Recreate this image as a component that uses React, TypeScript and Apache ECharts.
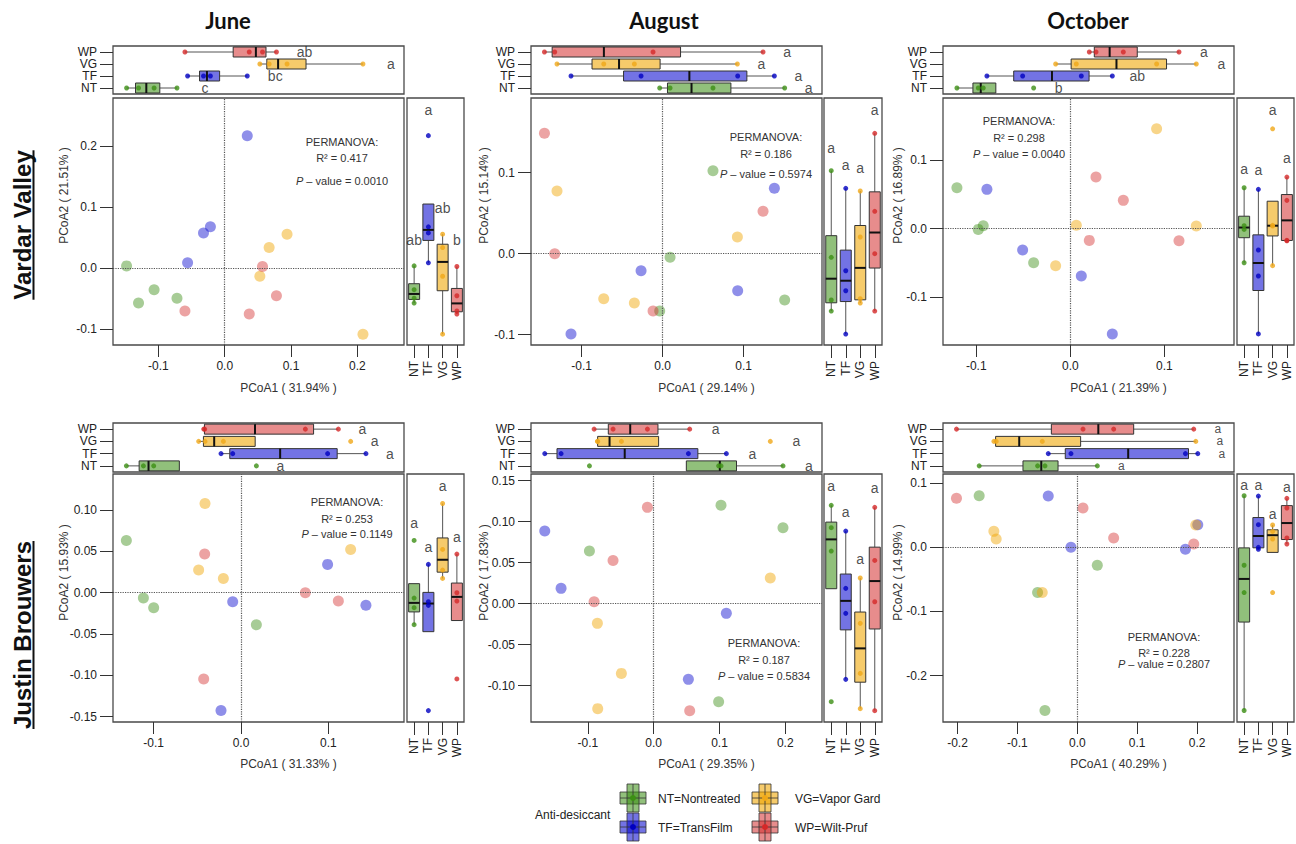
import React, { useEffect, useRef } from 'react';
import * as echarts from 'echarts';

// ---------- categories & labels ----------
const GROUPS = ['NT', 'TF', 'VG', 'WP'];
const GROUP_LABELS = ['NT=Nontreated', 'TF=TransFilm', 'VG=Vapor Gard', 'WP=Wilt-Pruf'];
const MONTHS = ['June', 'August', 'October'];
const SITES = ['Vardar Valley', 'Justin Brouwers'];

// ---------- data: PCoA1 (x) and PCoA2 (y) per group [NT, TF, VG, WP] ----------
const JUNE_VARDAR_X = [[-0.148, -0.130, -0.1065, -0.072], [0.034, -0.032, -0.0216, -0.056], [0.094, 0.067, 0.053, 0.2085], [0.057, 0.078, 0.037, -0.060]];
const JUNE_VARDAR_Y = [[0.004, -0.057, -0.035, -0.049], [0.2175, 0.058, 0.068, 0.009], [0.056, 0.034, -0.013, -0.108], [0.003, -0.045, -0.075, -0.070]];
const AUG_VARDAR_X = [[0.0621, 0.0091, 0.1506, -0.0037], [0.1379, -0.0267, 0.0926, -0.1132], [-0.1305, 0.0922, -0.0728, -0.035], [-0.146, -0.1333, 0.1239, -0.0119]];
const AUG_VARDAR_Y = [[0.1025, -0.0045, -0.0572, -0.0708], [0.0807, -0.021, -0.0457, -0.0992], [0.0774, 0.0206, -0.0556, -0.0609], [0.1486, 0.0, 0.0523, -0.0708]];
const OCT_VARDAR_X = [[-0.1206, -0.0926, -0.0979, -0.039], [-0.0887, -0.0507, 0.0117, 0.0447], [0.0918, 0.0064, 0.134, -0.0156], [0.0273, 0.0564, 0.0202, 0.1156]];
const OCT_VARDAR_Y = [[0.06, 0.0044, -0.001, -0.0498], [0.0576, -0.0312, -0.0693, -0.1541], [0.1463, 0.0049, 0.0039, -0.0541], [0.0756, 0.0415, -0.0171, -0.0176]];
const JUNE_JUSTIN_X = [[-0.1313, -0.1118, -0.1, 0.0176], [0.0992, -0.0095, 0.1431, -0.0229], [-0.0412, -0.0485, -0.0202, 0.1256], [-0.0416, 0.0737, 0.1115, -0.0427]];
const JUNE_JUSTIN_Y = [[0.0633, -0.0065, -0.0181, -0.0387], [0.0343, -0.0109, -0.0153, -0.1427], [0.108, 0.0274, 0.0173, 0.0524], [0.0468, 0.0, -0.0101, -0.1044]];
const AUG_JUSTIN_X = [[0.1023, 0.1965, -0.0977, 0.0987], [-0.1656, -0.1408, 0.1104, 0.0527], [0.1772, -0.0856, -0.0491, -0.0851], [-0.0096, -0.0618, -0.0906, 0.0547]];
const AUG_JUSTIN_Y = [[0.12, 0.0927, 0.0642, -0.1195], [0.0886, 0.0187, -0.0118, -0.0923], [0.0313, -0.024, -0.085, -0.128], [0.1175, 0.0528, 0.0024, -0.1305]];
const OCT_JUSTIN_X = [[-0.1638, 0.0334, -0.0663, -0.054], [-0.0485, -0.0106, 0.1805, 0.2011], [-0.1393, -0.1354, -0.0585, 0.1978], [-0.2017, 0.0095, 0.0607, 0.1944]];
const OCT_JUSTIN_Y = [[0.0805, -0.028, -0.0706, -0.2545], [0.08, 0.0, -0.0031, 0.0353], [0.0249, 0.013, -0.0706, 0.0348], [0.0764, 0.0613, 0.0145, 0.0052]];

const PANEL_X = [JUNE_VARDAR_X, AUG_VARDAR_X, OCT_VARDAR_X, JUNE_JUSTIN_X, AUG_JUSTIN_X, OCT_JUSTIN_X];
const PANEL_Y = [JUNE_VARDAR_Y, AUG_VARDAR_Y, OCT_VARDAR_Y, JUNE_JUSTIN_Y, AUG_JUSTIN_Y, OCT_JUSTIN_Y];

const PC1_PCT = ['31.94', '29.14', '21.39', '31.33', '29.35', '40.29'];
const PC2_PCT = ['21.51', '15.14', '16.89', '15.93', '17.83', '14.99'];
const R2 = ['0.417', '0.186', '0.298', '0.253', '0.187', '0.228'];
const PVAL = ['0.0010', '0.5974', '0.0040', '0.1149', '0.5834', '0.2807'];

const LETTERS_TOP = [['c', 'bc', 'a', 'ab'], ['a', 'a', 'a', 'a'], ['b', 'ab', 'a', 'a'], ['a', 'a', 'a', 'a'], ['a', 'a', 'a', 'a'], ['a', 'a', 'a', 'a']];
const LETTERS_RIGHT = [['ab', 'a', 'ab', 'b'], ['a', 'a', 'a', 'a'], ['a', 'a', 'a', 'a'], ['a', 'a', 'a', 'a'], ['a', 'a', 'a', 'a'], ['a', 'a', 'a', 'a']];

const X_TICKS = [[-0.1, 0, 0.1, 0.2], [-0.1, 0, 0.1], [-0.1, 0, 0.1], [-0.1, 0, 0.1], [-0.1, 0, 0.1, 0.2], [-0.2, -0.1, 0, 0.1, 0.2]];
const Y_TICKS = [[-0.1, 0, 0.1, 0.2], [-0.1, 0, 0.1], [-0.1, 0, 0.1], [-0.15, -0.1, -0.05, 0, 0.05, 0.1], [-0.1, -0.05, 0, 0.05, 0.1, 0.15], [-0.2, -0.1, 0, 0.1]];
const Y_DEC = [1, 1, 1, 2, 2, 1];

// ---------- layout / style ----------
const X_RANGE = [[-0.1685, 0.2704], [-0.1626, 0.1967], [-0.1354, 0.1741], [-0.1466, 0.1867], [-0.1865, 0.2558], [-0.2242, 0.2616]];
const Y_RANGE = [[-0.1257, 0.2792], [-0.1127, 0.1922], [-0.1703, 0.1914], [-0.1565, 0.1437], [-0.1443, 0.1582], [-0.2725, 0.1144]];
const COLS = [
  { left: 113, right: 404, rbLeft: 407, rbRight: 464, yNameX: 64, titleX: 228 },
  { left: 531, right: 822, rbLeft: 824, rbRight: 882, yNameX: 484, titleX: 664 },
  { left: 943, right: 1234, rbLeft: 1237, rbRight: 1294, yNameX: 898, titleX: 1088 },
];
const ROWS = [
  { boxTop: 46, boxBottom: 94, top: 98, bottom: 345, xNameY: 388, rowLabelY: 225 },
  { boxTop: 423, boxBottom: 472, top: 474, bottom: 722, xNameY: 764, rowLabelY: 635 },
];
const PERM_POS = [[342, 142, 158, 181], [766, 137, 154, 174], [1019, 121, 138, 154], [347, 502, 519, 534], [764, 643, 660, 676], [1164, 637, 653, 664]];
const TOP_DX = [28, 24, 25, 24, 26, 24];
const TOP_FS = [14, 14, 14, 14, 14, 12];
const RIGHT_DY = [26, 23, 19, 17, 19, 11];

const FILL = ['rgba(55,140,15,0.55)', 'rgba(0,0,205,0.55)', 'rgba(240,165,0,0.58)', 'rgba(212,45,45,0.55)'];
const DOT = ['#3c8f14', '#0000c0', '#f0a818', '#d42828'];
const FONT = '"Liberation Sans", Arial, sans-serif';
const FRAME = '#4a4a4a';
const INK = '#222';

function quant(s: number[], p: number) {
  const h = (s.length - 1) * p;
  const i = Math.floor(h);
  const f = h - i;
  return i + 1 < s.length ? s[i] + f * (s[i + 1] - s[i]) : s[i];
}
function boxStats(vals: number[]) {
  const s = [...vals].sort((a, b) => a - b);
  const q1 = quant(s, 0.25), med = quant(s, 0.5), q3 = quant(s, 0.75);
  const iqr = q3 - q1;
  const lo = Math.min(q1, ...s.filter(v => v >= q1 - 1.5 * iqr));
  const hi = Math.max(q3, ...s.filter(v => v <= q3 + 1.5 * iqr));
  return [lo, q1, med, q3, hi];
}

function renderBox(horizontal: boolean) {
  return (params: any, api: any) => {
    const c = api.value(0);
    const v = [1, 2, 3, 4, 5].map(k => api.value(k));
    const p = v.map(val => (horizontal ? api.coord([val, c]) : api.coord([c, val])));
    const color = FILL[params.dataIndex];
    const h = horizontal ? 5 : 5.5;
    const wl = { stroke: '#555', lineWidth: 1 };
    if (horizontal) {
      const y = p[0][1];
      return {
        type: 'group',
        children: [
          { type: 'line', shape: { x1: p[0][0], y1: y, x2: p[1][0], y2: y }, style: wl },
          { type: 'line', shape: { x1: p[3][0], y1: y, x2: p[4][0], y2: y }, style: wl },
          { type: 'rect', shape: { x: p[1][0], y: y - h, width: p[3][0] - p[1][0], height: 2 * h }, style: { fill: color, stroke: '#333', lineWidth: 1 } },
          { type: 'line', shape: { x1: p[2][0], y1: y - h, x2: p[2][0], y2: y + h }, style: { stroke: '#111', lineWidth: 2 } },
        ],
      };
    }
    const x = p[0][0];
    return {
      type: 'group',
      children: [
        { type: 'line', shape: { x1: x, y1: p[0][1], x2: x, y2: p[1][1] }, style: wl },
        { type: 'line', shape: { x1: x, y1: p[3][1], x2: x, y2: p[4][1] }, style: wl },
        { type: 'rect', shape: { x: x - h, y: p[3][1], width: 2 * h, height: p[1][1] - p[3][1] }, style: { fill: color, stroke: '#333', lineWidth: 1 } },
        { type: 'line', shape: { x1: x - h, y1: p[2][1], x2: x + h, y2: p[2][1] }, style: { stroke: '#111', lineWidth: 2 } },
      ],
    };
  };
}

function txt(x: number, y: number, text: string, o: any = {}) {
  return {
    type: 'text', x, y, rotation: o.rot || 0, silent: true,
    style: {
      text, fontSize: o.size || 12, fontFamily: o.family || FONT, fontWeight: o.weight || 'normal',
      fill: o.color || '#333', align: o.align || 'center', verticalAlign: 'middle', rich: o.rich,
    },
  };
}

function measure(text: string, font: string) {
  const ctx = document.createElement('canvas').getContext('2d');
  if (!ctx) return text.length * 12;
  ctx.font = font;
  return ctx.measureText(text).width;
}

function glyph(cx: number, cy: number, i: number) {
  const st = { stroke: '#333', lineWidth: 0.8 };
  return {
    type: 'group', silent: true,
    children: [
      { type: 'rect', shape: { x: cx - 13, y: cy - 6, width: 26, height: 12 }, style: { fill: FILL[i], ...st } },
      { type: 'rect', shape: { x: cx - 6, y: cy - 14, width: 12, height: 28 }, style: { fill: FILL[i], ...st } },
      { type: 'line', shape: { x1: cx, y1: cy - 14, x2: cx, y2: cy + 14 }, style: st },
      { type: 'line', shape: { x1: cx - 13, y1: cy, x2: cx + 13, y2: cy }, style: st },
      { type: 'circle', shape: { cx, cy, r: 3 }, style: { fill: DOT[i] } },
    ],
  };
}

function buildOption() {
  const grid: any[] = [], xAxis: any[] = [], yAxis: any[] = [], series: any[] = [], graphic: any[] = [];
  const tickStyle = { color: '#333', width: 1 };
  const labelStyle = { fontSize: 12, color: INK, fontFamily: FONT };
  const noLine = { show: false, onZero: false };
  const hidden = { axisLine: noLine, axisTick: { show: false }, axisLabel: { show: false }, splitLine: { show: false } };

  for (let p = 0; p < 6; p++) {
    const r = Math.floor(p / 3), c = p % 3;
    const col = COLS[c], row = ROWS[r];
    const X = PANEL_X[p], Y = PANEL_Y[p];
    const g0 = grid.length, g1 = g0 + 1, g2 = g0 + 2;
    const gb = { show: true, borderColor: FRAME, borderWidth: 1.3, backgroundColor: 'transparent', containLabel: false, outerBoundsMode: 'none' };
    grid.push({ ...gb, left: col.left, top: row.boxTop, width: col.right - col.left, height: row.boxBottom - row.boxTop });
    grid.push({ ...gb, left: col.left, top: row.top, width: col.right - col.left, height: row.bottom - row.top });
    grid.push({ ...gb, left: col.rbLeft, top: row.top, width: col.rbRight - col.rbLeft, height: row.bottom - row.top });

    // top box axes
    xAxis.push({ type: 'value', gridIndex: g0, min: X_RANGE[p][0], max: X_RANGE[p][1], ...hidden });
    yAxis.push({
      type: 'category', gridIndex: g0, data: GROUPS, axisLine: noLine,
      axisTick: { show: true, alignWithLabel: true, interval: 0, length: 13, lineStyle: tickStyle },
      axisLabel: { ...labelStyle, interval: 0, lineHeight: 11, margin: 16 }, splitLine: { show: false },
    });
    // scatter axes
    xAxis.push({
      type: 'value', gridIndex: g1, min: X_RANGE[p][0], max: X_RANGE[p][1], axisLine: noLine,
      axisTick: { show: true, length: 12, customValues: X_TICKS[p], lineStyle: tickStyle },
      axisLabel: { ...labelStyle, customValues: X_TICKS[p], margin: 15, formatter: (v: number) => v.toFixed(1) },
      splitLine: { show: false },
    });
    yAxis.push({
      type: 'value', gridIndex: g1, min: Y_RANGE[p][0], max: Y_RANGE[p][1], axisLine: noLine,
      axisTick: { show: true, length: 13, customValues: Y_TICKS[p], lineStyle: tickStyle },
      axisLabel: { ...labelStyle, customValues: Y_TICKS[p], margin: 16, formatter: (v: number) => v.toFixed(Y_DEC[p]) },
      splitLine: { show: false },
    });
    // right box axes
    xAxis.push({
      type: 'category', gridIndex: g2, data: GROUPS, axisLine: noLine,
      axisTick: { show: true, alignWithLabel: true, interval: 0, length: 13, lineStyle: tickStyle },
      axisLabel: { ...labelStyle, interval: 0, lineHeight: 12, rotate: 90, margin: 16 }, splitLine: { show: false },
    });
    yAxis.push({ type: 'value', gridIndex: g2, min: Y_RANGE[p][0], max: Y_RANGE[p][1], ...hidden });

    // top boxplot
    series.push({
      type: 'custom', xAxisIndex: g0, yAxisIndex: g0, silent: true, renderItem: renderBox(true),
      encode: { x: [1, 2, 3, 4, 5], y: 0 }, data: GROUPS.map((_, i) => [i, ...boxStats(X[i])]), z: 2,
    });
    series.push({
      type: 'scatter', xAxisIndex: g0, yAxisIndex: g0, silent: true, symbolSize: 5, z: 3,
      data: GROUPS.flatMap((_, i) => X[i].map(v => ({ value: [v, i], itemStyle: { color: DOT[i] } }))),
    });
    series.push({
      type: 'scatter', xAxisIndex: g0, yAxisIndex: g0, silent: true, symbolSize: 2, z: 4,
      itemStyle: { color: 'rgba(0,0,0,0)' },
      label: { show: true, position: 'inside', offset: [TOP_DX[p], 0], fontSize: TOP_FS[p], lineHeight: 11, color: INK, fontFamily: FONT },
      data: GROUPS.map((_, i) => ({ value: [Math.max(...X[i]), i], label: { formatter: LETTERS_TOP[p][i] } })),
    });

    // main scatter
    GROUPS.forEach((g, i) => {
      series.push({
        type: 'scatter', name: g, xAxisIndex: g1, yAxisIndex: g1, silent: true, symbolSize: 11, z: 3,
        itemStyle: { color: FILL[i] },
        data: X[i].map((x, k) => [x, Y[i][k]]),
        markLine: i === 0 ? {
          silent: true, symbol: ['none', 'none'], label: { show: false },
          lineStyle: { type: 'dotted', color: '#555', width: 1.2 },
          data: [{ xAxis: 0 }, { yAxis: 0 }],
        } : undefined,
      });
    });

    // right boxplot
    series.push({
      type: 'custom', xAxisIndex: g2, yAxisIndex: g2, silent: true, renderItem: renderBox(false),
      encode: { x: 0, y: [1, 2, 3, 4, 5] }, data: GROUPS.map((_, i) => [i, ...boxStats(Y[i])]), z: 2,
    });
    series.push({
      type: 'scatter', xAxisIndex: g2, yAxisIndex: g2, silent: true, symbolSize: 5, z: 3,
      data: GROUPS.flatMap((_, i) => Y[i].map(v => ({ value: [i, v], itemStyle: { color: DOT[i] } }))),
    });
    series.push({
      type: 'scatter', xAxisIndex: g2, yAxisIndex: g2, silent: true, symbolSize: 2, z: 4,
      itemStyle: { color: 'rgba(0,0,0,0)' },
      label: { show: true, position: 'inside', offset: [0, -RIGHT_DY[p]], fontSize: 14, lineHeight: 12, color: INK, fontFamily: FONT },
      data: GROUPS.map((_, i) => ({ value: [i, Math.max(...Y[i])], label: { formatter: LETTERS_RIGHT[p][i] } })),
    });

    // axis names
    graphic.push(txt((col.left + col.rbRight) / 2, row.xNameY, `PCoA1 ( ${PC1_PCT[p]}% )`, { color: '#333' }));
    graphic.push(txt(col.yNameX, (row.boxTop + row.bottom) / 2, `PCoA2 ( ${PC2_PCT[p]}% )`, { rot: Math.PI / 2, color: '#333' }));
    // PERMANOVA
    const pp = PERM_POS[p];
    graphic.push(txt(pp[0], pp[1], 'PERMANOVA:', { size: 11 }));
    graphic.push(txt(pp[0], pp[2], `R² = ${R2[p]}`, { size: 11 }));
    graphic.push(txt(pp[0], pp[3], `{i|P} – value = ${PVAL[p]}`, {
      size: 11, rich: { i: { fontStyle: 'italic', fontSize: 11, fontFamily: FONT, fill: '#333' } },
    }));
  }

  // titles
  MONTHS.forEach((m, c) => graphic.push(txt(COLS[c].titleX, 20, m, { size: 22, weight: 'bold', family: 'Lato, "Open Sans", sans-serif', color: '#111' })));
  // row labels
  SITES.forEach((s, r) => {
    const y = ROWS[r].rowLabelY;
    const w = measure(s, `bold 24px "Liberation Sans", Arial, sans-serif`);
    graphic.push(txt(22, y, s, { size: 24, weight: 'bold', rot: Math.PI / 2, color: '#111' }));
    graphic.push({ type: 'line', silent: true, shape: { x1: 33.5, y1: y - w / 2, x2: 33.5, y2: y + w / 2 }, style: { stroke: '#111', lineWidth: 2 } });
  });
  // legend
  graphic.push(txt(535, 815, 'Anti-desiccant', { align: 'left', color: INK }));
  const LG = [[633, 798], [633, 827], [765, 798], [765, 827]];
  const LT = [658, 658, 795, 795];
  GROUPS.forEach((_, i) => {
    graphic.push(glyph(LG[i][0], LG[i][1], i));
    graphic.push(txt(LT[i], LG[i][1] + 1, GROUP_LABELS[i], { align: 'left', color: INK }));
  });

  return {
    animation: false,
    backgroundColor: '#fff',
    textStyle: { fontFamily: FONT },
    grid, xAxis, yAxis, series, graphic,
  };
}

export default function App() {
  const ref = useRef<HTMLDivElement>(null);
  useEffect(() => {
    if (!ref.current) return;
    const chart = echarts.init(ref.current, null, { renderer: 'svg' });
    chart.setOption(buildOption() as any);
    return () => chart.dispose();
  }, []);
  return <div ref={ref} style={{ position: 'fixed', left: 0, top: 0, width: 1296, height: 844, background: '#fff' }} />;
}
